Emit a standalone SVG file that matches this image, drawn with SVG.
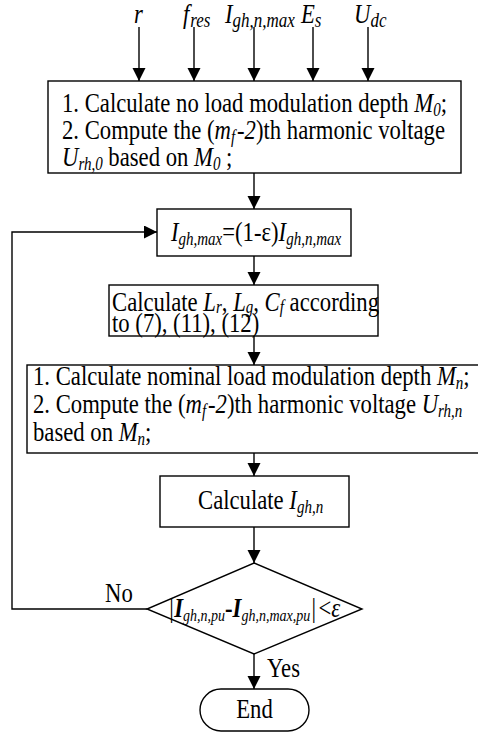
<svg xmlns="http://www.w3.org/2000/svg" width="478" height="732" viewBox="0 0 478 732">
<style>
text{font-family:"Liberation Serif","Times New Roman",serif;font-size:22.7px;fill:#000}
.i{font-style:italic}
.b{font-weight:bold}
.s{font-style:italic;font-size:15px}
.s2{font-style:italic;font-size:17px}
.s3{font-style:italic;font-size:14px}
.box{fill:#fff;stroke:#000;stroke-width:1.4}
.ln{fill:none;stroke:#000;stroke-width:1.4}
</style>
<defs>
<marker id="ah" markerUnits="userSpaceOnUse" markerWidth="14" markerHeight="14" refX="13" refY="6.5" orient="auto">
<path d="M0,0 L13,6.5 L0,13 Z" fill="#000"/>
</marker>
</defs>
<g id="inputs">
<text transform="matrix(1,0,0,1.19,134,23)" class="i">r</text>
<text transform="matrix(1,0,0,1.19,183,23)"><tspan class="i">f</tspan><tspan class="s2" dy="3" dx="1">res</tspan></text>
<text transform="matrix(1,0,0,1.19,225,23)"><tspan class="i">I</tspan><tspan class="s2" dy="3">gh,n,max</tspan></text>
<text transform="matrix(1,0,0,1.19,301,23)"><tspan class="i">E</tspan><tspan class="s2" dy="3">s</tspan></text>
<text transform="matrix(1,0,0,1.19,354,23)"><tspan class="i">U</tspan><tspan class="s2" dy="3">dc</tspan></text>
</g>
<g id="connectors">
<line class="ln" x1="139" y1="27" x2="139" y2="81" marker-end="url(#ah)"/>
<line class="ln" x1="194" y1="27" x2="194" y2="81" marker-end="url(#ah)"/>
<line class="ln" x1="254" y1="27" x2="254" y2="81" marker-end="url(#ah)"/>
<line class="ln" x1="313" y1="27" x2="313" y2="81" marker-end="url(#ah)"/>
<line class="ln" x1="368" y1="27" x2="368" y2="81" marker-end="url(#ah)"/>
<line class="ln" x1="254" y1="173" x2="254" y2="209" marker-end="url(#ah)"/>
<line class="ln" x1="254" y1="256" x2="254" y2="285" marker-end="url(#ah)"/>
<line class="ln" x1="254" y1="336" x2="254" y2="365" marker-end="url(#ah)"/>
<line class="ln" x1="254" y1="453" x2="254" y2="476" marker-end="url(#ah)"/>
<line class="ln" x1="254" y1="527" x2="254" y2="563" marker-end="url(#ah)"/>
<line class="ln" x1="254" y1="654" x2="254" y2="689" marker-end="url(#ah)"/>
<polyline class="ln" points="147,609 12,609 12,232 157,232" marker-end="url(#ah)"/>
<text transform="matrix(1,0,0,1.19,105,602)">No</text>
<text transform="matrix(1,0,0,1.19,267,677)">Yes</text>
</g>
<g id="step1">
<rect class="box" x="48" y="81" width="413" height="92"/>
<text transform="matrix(1,0,0,1.19,62,112)">1. Calculate no load modulation depth <tspan class="i">M</tspan><tspan class="s" dy="3">0</tspan><tspan dy="-3">;</tspan></text>
<text transform="matrix(1,0,0,1.19,62,139)">2. Compute the (<tspan class="i">m</tspan><tspan class="s" dy="3">f</tspan><tspan class="i" dy="-3" dx="2">-2</tspan>)th harmonic voltage</text>
<text transform="matrix(1,0,0,1.19,62,166)"><tspan class="i">U</tspan><tspan class="s" dy="3">rh,0</tspan><tspan dy="-3"> based on </tspan><tspan class="i">M</tspan><tspan class="s" dy="3">0</tspan><tspan dy="-3"> ;</tspan></text>
</g>
<g id="step2">
<rect class="box" x="157" y="209" width="194" height="47"/>
<text transform="matrix(1,0,0,1.19,171,241)"><tspan class="i">I</tspan><tspan class="s" dy="3">gh,max</tspan><tspan dy="-3">=(1-ε)</tspan><tspan class="i">I</tspan><tspan class="s" dy="3">gh,n,max</tspan></text>
</g>
<g id="step3">
<rect class="box" x="109" y="285" width="269" height="51"/>
<text transform="matrix(1,0,0,1.19,112,311)">Calculate <tspan class="i">L</tspan><tspan class="s" dy="2">r</tspan><tspan dy="-2">, </tspan><tspan class="i">L</tspan><tspan class="s" dy="2">g</tspan><tspan dy="-2">, </tspan><tspan class="i">C</tspan><tspan class="s" dy="2">f</tspan><tspan dy="-2"> according</tspan></text>
<text transform="matrix(1,0,0,1.19,112,332)">to (7), (11), (12)</text>
</g>
<g id="step4">
<rect class="box" x="27" y="365" width="460" height="88"/>
<text transform="matrix(1,0,0,1.19,33,385)">1. Calculate nominal load modulation depth <tspan class="i">M</tspan><tspan class="s" dy="3">n</tspan><tspan dy="-3">;</tspan></text>
<text transform="matrix(1,0,0,1.19,33,413)">2. Compute the (<tspan class="i">m</tspan><tspan class="s" dy="3">f</tspan><tspan class="i" dy="-3" dx="2">-2</tspan>)th harmonic voltage <tspan class="i">U</tspan><tspan class="s" dy="3">rh,n</tspan></text>
<text transform="matrix(1,0,0,1.19,33,441)">based on <tspan class="i">M</tspan><tspan class="s" dy="3">n</tspan><tspan dy="-3">;</tspan></text>
</g>
<g id="step5">
<rect class="box" x="160" y="476" width="189" height="51"/>
<text transform="matrix(1,0,0,1.19,198,509)">Calculate <tspan class="i">I</tspan><tspan class="s" dy="3">gh,n</tspan></text>
</g>
<g id="decision">
<polygon class="box" points="254,563 362,609 254,654 147,609"/>
<text transform="matrix(1,0,0,1.19,168,617)"><tspan class="i">|</tspan><tspan class="i b">I</tspan><tspan class="s3" dy="3">gh,n,pu</tspan><tspan class="b" dy="-3">-</tspan><tspan class="i b">I</tspan><tspan class="s3" dy="3">gh,n,max,pu</tspan><tspan class="i" dy="-3">|</tspan><tspan dx="2">&lt;</tspan><tspan class="i">ε</tspan></text>
</g>
<g id="end">
<rect class="box" x="200" y="689" width="109" height="42" rx="21" ry="21"/>
<text transform="matrix(1,0,0,1.19,254.5,718)" text-anchor="middle">End</text>
</g>
</svg>
